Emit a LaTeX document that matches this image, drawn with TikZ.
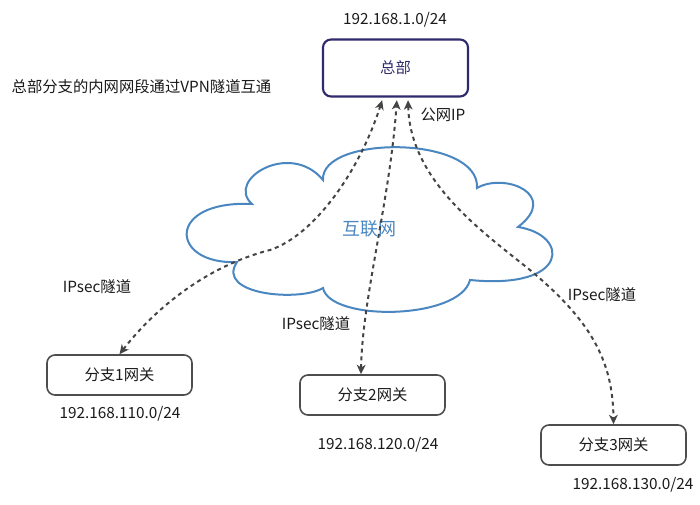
\documentclass[tikz,border=0pt]{standalone}
\usepackage{fontspec}
\setmainfont{Noto Sans CJK SC}
\usetikzlibrary{arrows.meta}
\definecolor{hqc}{HTML}{2F2A6B}
\definecolor{boxc}{HTML}{4D4D4D}
\definecolor{cloudc}{HTML}{4A86C0}
\definecolor{linec}{HTML}{444444}
\definecolor{txt}{HTML}{1A1A1A}
\begin{document}
\begin{tikzpicture}[x=0.75pt,y=-0.75pt,
  every node/.style={font=\fontsize{11.5}{13}\selectfont, text=txt},
  hqbox/.style={draw=hqc, line width=1.6pt, rounded corners=6pt, minimum width=108.75pt, minimum height=42.75pt, inner sep=0pt, text=hqc},
  brbox/.style={draw=boxc, line width=1.2pt, rounded corners=6pt, minimum width=108.75pt, minimum height=30pt, inner sep=0pt},
  tunnel/.style={draw=linec, line width=1.5pt, dash pattern=on 3pt off 2.8pt, {Stealth[length=7pt,width=6.5pt,inset=2pt]}-{Stealth[length=7pt,width=6.5pt,inset=2pt]}},
  cloudline/.style={draw=cloudc, line width=1.5pt}
]
\useasboundingbox (0,0) rectangle (700,505);
% nodes
\node[hqbox] (hq) at (395.5,68) {总部};
\node (hqnet) at (395,20) {192.168.1.0/24};
\node[anchor=west] (title) at (7,87) {总部分支的内网网段通过VPN隧道互通};
\node[brbox] (b1) at (119.5,375) {分支1网关};
\node (b1net) at (120,414) {192.168.110.0/24};
\node[brbox] (b2) at (372.5,395) {分支2网关};
\node (b2net) at (378,445) {192.168.120.0/24};
\node[brbox] (b3) at (613.5,445) {分支3网关};
\node (b3net) at (633,485) {192.168.130.0/24};
% cloud
\draw[cloudline] (323,180) .. controls (320,135) and (480,135) .. (477,188)
  .. controls (505,172) and (560,195) .. (518,227)
  .. controls (570,235) and (570,290) .. (470,280)
  .. controls (460,320) and (330,322) .. (323,288)
  .. controls (300,302) and (215,295) .. (237,262)
  .. controls (170,265) and (165,200) .. (252,204)
  .. controls (225,180) and (290,140) .. (323,180) -- cycle;
\node[text=cloudc, font=\fontsize{13.5}{15}\selectfont] (inet) at (369,229) {互联网};
% labels
\node (pubip) at (443,115) {公网IP};
\node (t1) at (97,287) {IPsec隧道};
\node (t2) at (316,324) {IPsec隧道};
\node (t3) at (602,295) {IPsec隧道};
% tunnels
\coordinate (m1) at (270,250);
\coordinate (m3) at (530,270);
\draw[tunnel] (b1.north) .. controls (150,315) and (200,268) .. (m1)
  .. controls (315,235) and (360,170) .. ([xshift=-10pt,yshift=-2pt]hq.south);
\draw[tunnel] ([xshift=-8.6pt]b2.north) .. controls (362,300) and (390,200) .. ([xshift=1pt,yshift=-2pt]hq.south);
\draw[tunnel] ([xshift=9.4pt,yshift=-2pt]hq.south) .. controls (410,180) and (480,230) .. (m3)
  .. controls (590,320) and (613,360) .. (b3.north);
\end{tikzpicture}
\end{document}
